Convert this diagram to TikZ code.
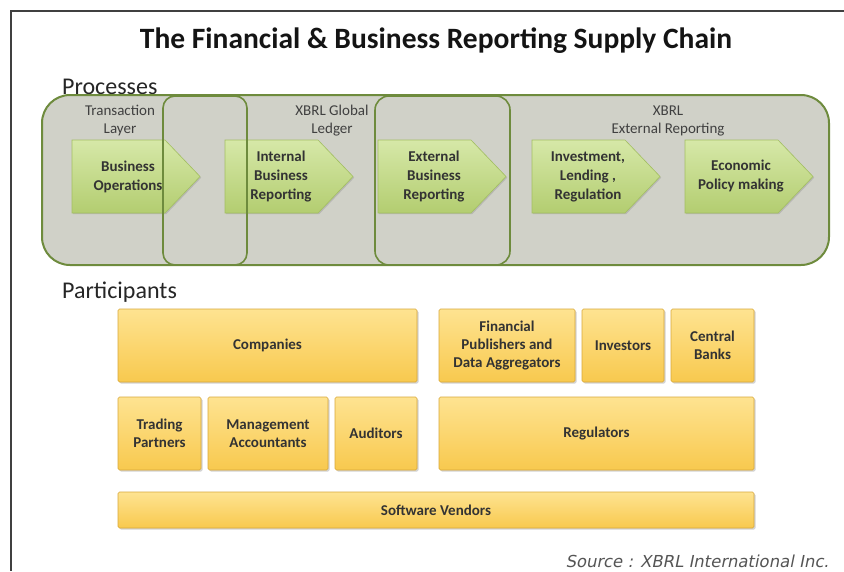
\documentclass[tikz,border=0pt]{standalone}
\usepackage{fontspec}
\setmainfont{Carlito}
\newfontfamily\srcfont{DejaVu Sans}[FakeSlant=0.2]
\usetikzlibrary{shadows}
\definecolor{procfill}{HTML}{D0D1C8}
\definecolor{procline}{HTML}{6E8B3D}
\definecolor{arrtop}{HTML}{D6E8A8}
\definecolor{arrbot}{HTML}{B3CD70}
\definecolor{arrline}{HTML}{A3BF62}
\definecolor{boxtop}{HTML}{FEE391}
\definecolor{boxbot}{HTML}{F8C94E}
\definecolor{boxline}{HTML}{D8A83A}
\definecolor{txt}{HTML}{333333}
\definecolor{lbl}{HTML}{404040}
\definecolor{srccol}{HTML}{555555}
\newcommand\procarrow[3]{%
  \draw[draw=arrline, line width=0.6pt, top color=arrtop, bottom color=arrbot,
        drop shadow={shadow xshift=1.2pt, shadow yshift=-1.2pt, opacity=0.3}]
    (#1,140) -- (#1+93,140) -- (#1+128,176.5) -- (#1+93,213) -- (#1,213) -- cycle;
  \node[arrtext] (#2) at (#1+56,176.5) {#3};}
\begin{document}
\begin{tikzpicture}[x=1pt,y=-1pt,
  part/.style={draw=boxline, line width=0.6pt, top color=boxtop, bottom color=boxbot,
    rounded corners=1.5pt, inner sep=0pt, font=\fontsize{15}{18}\selectfont\bfseries,
    text=txt, align=center,
    drop shadow={shadow xshift=1.5pt, shadow yshift=-1.5pt, opacity=0.35}},
  arrtext/.style={font=\fontsize{15}{19}\selectfont\bfseries, text=txt, align=center},
  grouplbl/.style={font=\fontsize{15}{18}\selectfont, text=lbl, align=center},
  section/.style={font=\fontsize{24}{26}\selectfont, text=black!85, anchor=west, inner sep=0pt},
]
\useasboundingbox (0,0) rectangle (844,571);
\draw[line width=2pt, color=black!75] (844,11) -- (11,11) -- (11,571);

\node[font=\fontsize{29.5}{32}\selectfont\bfseries, text=black!92] (title) at (436,41)
  {The Financial \& Business Reporting Supply Chain};

\node[section] (proc) at (62,87) {Processes};
\node[section] (part) at (62,292) {Participants};

\draw[draw=procline, fill=procfill, line width=2pt, rounded corners=28pt]
  (42,95) rectangle (829,265);

\node[grouplbl] (g1) at (120,121) {Transaction\\Layer};
\node[grouplbl] (g2) at (332,121) {XBRL Global\\Ledger};
\node[grouplbl] (g3) at (668,121) {XBRL\\External Reporting};

\procarrow{72}{a1}{Business\\Operations}
\procarrow{225}{a2}{Internal\\Business\\Reporting}
\procarrow{378}{a3}{External\\Business\\Reporting}
\procarrow{532}{a4}{Investment,\\Lending ,\\Regulation}
\procarrow{685}{a5}{Economic\\Policy making}

\draw[draw=procline, line width=1.6pt, rounded corners=12pt] (163,96) rectangle (247,265);
\draw[draw=procline, line width=1.6pt, rounded corners=14pt] (375,96) rectangle (510,265);

\node[part, minimum width=299pt, minimum height=73pt] (comp) at (267.5,345.5) {Companies};
\node[part, minimum width=136pt, minimum height=73pt] (fin) at (507,345.5) {Financial\\Publishers and\\Data Aggregators};
\node[part, minimum width=82pt, minimum height=73pt] (inv) at (623,345.5) {Investors};
\node[part, minimum width=83pt, minimum height=73pt] (cb) at (712.5,345.5) {Central\\Banks};
\node[part, minimum width=83pt, minimum height=73pt] (trad) at (159.5,433.5) {Trading\\Partners};
\node[part, minimum width=120pt, minimum height=73pt] (mgmt) at (268,433.5) {Management\\Accountants};
\node[part, minimum width=82pt, minimum height=73pt] (aud) at (376,433.5) {Auditors};
\node[part, minimum width=315pt, minimum height=73pt] (reg) at (596.5,433.5) {Regulators};
\node[part, minimum width=636pt, minimum height=36pt] (soft) at (436,510) {Software Vendors};

\node[font=\srcfont\fontsize{16.5}{18}\selectfont, text=srccol, anchor=east, inner sep=0pt]
  (src) at (829,561) {Source : XBRL International Inc.};
\end{tikzpicture}
\end{document}
